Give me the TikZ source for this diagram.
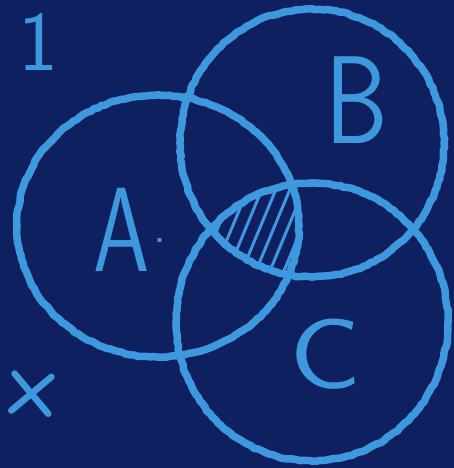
\documentclass[tikz,border=0pt]{standalone}
\usetikzlibrary{decorations.pathmorphing}
\definecolor{board}{RGB}{14,32,96}
\definecolor{chalk}{RGB}{62,152,222}
\begin{document}
\begin{tikzpicture}[x=1pt,y=-1pt,
  chalkline/.style={draw=chalk,line width=7.5pt,line cap=round,line join=round,
    decorate,decoration={random steps,segment length=4pt,amplitude=0.7pt}},
  hatchline/.style={draw=chalk,line width=3pt,line cap=round},
  chalktext/.style={text=chalk,inner sep=0pt,font=\sffamily}]
\fill[board] (0,0) rectangle (454,468);
\useasboundingbox (0,0) rectangle (454,468);
% circles
\path[chalkline] (158,226) ellipse [x radius=141,y radius=131];
\path[chalkline] (312,143) ellipse [x radius=132,y radius=134];
\path[chalkline] (312,322) ellipse [x radius=136,y radius=139];
% hatching of A∩B∩C
\begin{scope}
  \clip (158,226) ellipse [x radius=141,y radius=131];
  \clip (312,143) ellipse [x radius=132,y radius=134];
  \clip (312,322) ellipse [x radius=136,y radius=139];
  \foreach \i in {0,...,9}{
    \draw[hatchline] ({150+\i*14},290) -- ({200+\i*14},170);
  }
\end{scope}
% labels
\node[chalktext,font=\sffamily\fontsize{120}{120}\selectfont,xscale=0.75] (la) at (122,230) {A};
\node[chalktext,font=\sffamily\fontsize{50}{50}\selectfont] (dot) at (160,240) {.};
\node[chalktext,font=\sffamily\fontsize{125}{125}\selectfont,xscale=0.8] (lb) at (357,100) {B};
\node[chalktext,font=\sffamily\fontsize{100}{100}\selectfont,xscale=1.2] (lc) at (326,354) {C};
\node[chalktext,font=\sffamily\fontsize{85}{85}\selectfont] (one) at (38,42) {1};
\node[chalktext,font=\sffamily\bfseries\fontsize{80}{80}\selectfont,rotate=40] (plus) at (32,394) {+};
\end{tikzpicture}
\end{document}
